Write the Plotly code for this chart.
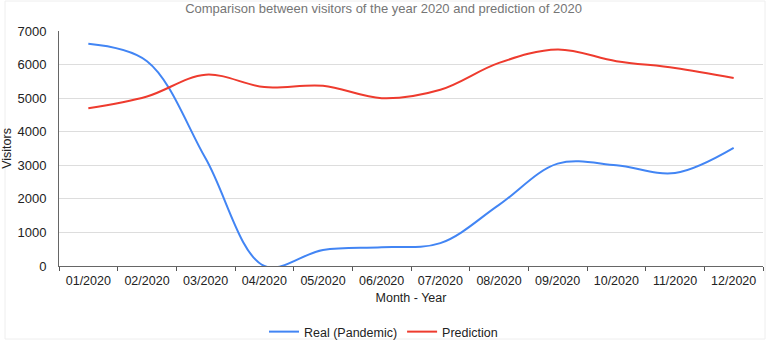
import plotly.graph_objects as go

months = ["01/2020", "02/2020", "03/2020", "04/2020", "05/2020", "06/2020",
          "07/2020", "08/2020", "09/2020", "10/2020", "11/2020", "12/2020"]
real_pandemic = [6620, 6100, 3200, 0, 480, 560, 680, 1820, 3050, 3000, 2770, 3520]
prediction = [4700, 5050, 5700, 5330, 5370, 5000, 5250, 6050, 6450, 6100, 5900, 5600]
y_ticks = [0, 1000, 2000, 3000, 4000, 5000, 6000, 7000]

FONT = "Arial, 'Liberation Sans', sans-serif"
W, H = 767, 342
ML, MR, MT, MB = 59, 4, 31, 76
PW, PH = W - ML - MR, H - MT - MB


def px_x(p):
    return (p - ML) / PW


def px_y(p):
    return (H - MB - p) / PH


fig = go.Figure()
fig.add_trace(go.Scatter(x=months, y=real_pandemic, mode="lines", name="Real (Pandemic)",
                         line=dict(color="#4285F4", width=2, shape="spline", smoothing=1)))
fig.add_trace(go.Scatter(x=months, y=prediction, mode="lines", name="Prediction",
                         line=dict(color="#EE3B2E", width=2, shape="spline", smoothing=1)))

fig.update_layout(
    width=W, height=H,
    margin=dict(l=ML, r=MR, t=MT, b=MB),
    paper_bgcolor="white", plot_bgcolor="white",
    font=dict(family=FONT, size=12, color="#222222"),
    title=dict(text="Comparison between visitors of the year 2020 and prediction of 2020",
               x=0.5, xref="container", xanchor="center",
               y=1 - 8 / H, yref="container", yanchor="middle",
               font=dict(family=FONT, size=13, color="#757575")),
    legend=dict(orientation="h", x=0.5, xref="container", xanchor="center",
                y=1 - 332 / H, yref="container", yanchor="middle",
                font=dict(family=FONT, size=12.5, color="#222222"),
                itemwidth=30, bgcolor="rgba(0,0,0,0)"),
    showlegend=True,
    shapes=[dict(type="rect", xref="paper", yref="paper", layer="below",
                 x0=px_x(5), x1=px_x(765), y0=px_y(339), y1=px_y(1),
                 line=dict(color="#EEEEEE", width=1), fillcolor="rgba(0,0,0,0)")],
)
fig.update_xaxes(
    type="category", tickson="boundaries", ticks="outside", ticklen=4, tickcolor="#555555",
    showline=True, linecolor="#666666", linewidth=1, showgrid=False,
    tickfont=dict(family=FONT, size=12.5, color="#222222"),
    ticklabelstandoff=3,
    title=dict(text="Month - Year", standoff=6, font=dict(family=FONT, size=12.5, color="#222222")),
    range=[-0.5, 11.5], automargin=False,
)
fig.update_yaxes(
    range=[0, 7000], tickvals=y_ticks, showgrid=True, gridcolor="#DDDDDD", gridwidth=1,
    showline=True, linecolor="#666666", linewidth=1, zeroline=False, ticks="",
    tickfont=dict(family=FONT, size=13, color="#222222"),
    ticklabelstandoff=9,
    title=dict(text="Visitors", standoff=5, font=dict(family=FONT, size=12.5, color="#222222")),
    automargin=False,
)

fig.write_html("out.html")
